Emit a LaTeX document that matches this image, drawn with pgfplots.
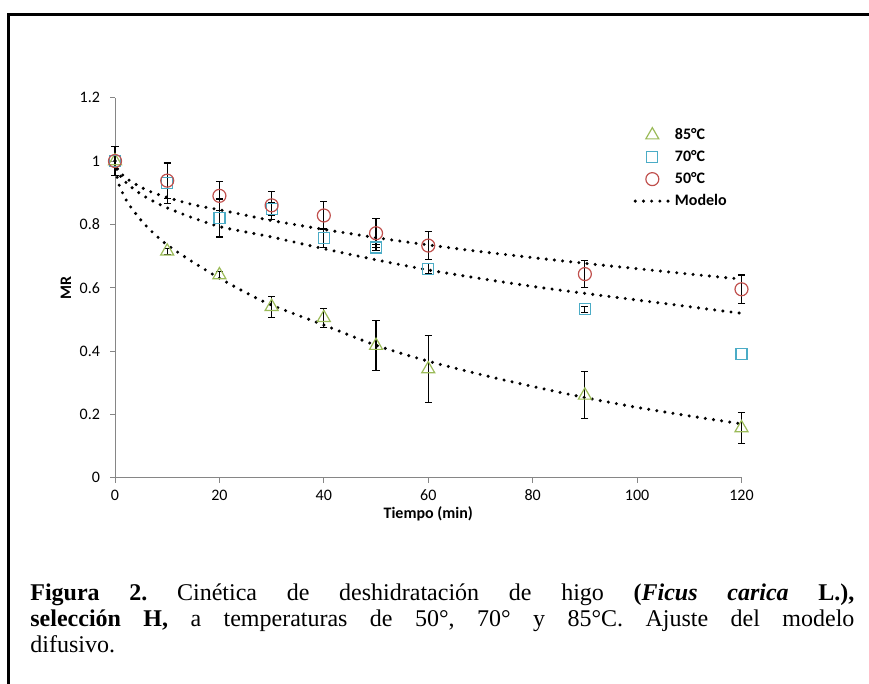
\documentclass[border=0pt]{standalone}
\usepackage{fontspec}
\setmainfont{Carlito}
\newfontfamily\capfont{Liberation Serif}
\usepackage{pgfplots}
\usepackage{pgfplotstable}
\pgfplotsset{compat=1.18}

\definecolor{c85}{HTML}{9BBB59}
\definecolor{c70}{HTML}{4BACC6}
\definecolor{c50}{HTML}{C0504D}
\definecolor{axgray}{HTML}{868686}

% measured MR with standard deviation
\pgfplotstableread{
x y e
0 1.000 0.000
10 0.715 0.010
20 0.640 0.010
30 0.540 0.033
40 0.505 0.030
50 0.417 0.078
60 0.343 0.105
90 0.260 0.074
120 0.157 0.048
}\tcinco
\pgfplotstableread{
x y e
0 1.000 0.000
10 0.930 0.065
20 0.820 0.060
30 0.848 0.020
40 0.757 0.030
50 0.727 0.010
60 0.660 0.015
90 0.532 0.010
120 0.390 0.000
}\tsiete
\pgfplotstableread{
x y e
0 1.000 0.045
10 0.938 0.055
20 0.890 0.045
30 0.860 0.045
40 0.828 0.045
50 0.772 0.046
60 0.733 0.045
90 0.643 0.043
120 0.595 0.045
}\tcincuenta

% modelo difusivo
\pgfplotstableread{
x m85 m70 m50
0 1.000 1.000 1.000
0.5 0.941 0.967 0.974
1 0.916 0.953 0.963
2 0.881 0.934 0.948
3 0.855 0.919 0.936
5 0.813 0.895 0.917
7 0.778 0.876 0.902
10 0.735 0.852 0.885
15 0.680 0.820 0.862
20 0.630 0.793 0.846
25 0.585 0.776 0.829
30 0.545 0.760 0.812
40 0.482 0.723 0.784
50 0.418 0.688 0.758
60 0.368 0.656 0.735
70 0.326 0.629 0.714
80 0.288 0.604 0.695
90 0.253 0.582 0.677
100 0.222 0.561 0.660
110 0.195 0.540 0.643
120 0.170 0.519 0.627
}\tmodelo

\pgfplotsset{
  ebar/.style={draw=none, mark=none, forget plot,
    error bars/.cd, y dir=both, y explicit,
    error bar style={draw=black, solid, line width=0.55pt},
    error mark options={draw=black, rotate=90, mark size=1.8pt, line width=0.55pt}},
  modelo/.style={black, line width=1.7pt, dash pattern=on 0pt off 4.1pt, line cap=round, smooth, forget plot},
}

\begin{document}
\begin{tikzpicture}
\path[use as bounding box] (0,0) rectangle (434.5pt,342pt);
\draw[line width=1.2pt] (4.25pt,0) -- (4.25pt,334.75pt) -- (434.5pt,334.75pt);
\begin{axis}[
  at={(57.5pt,103.15pt)}, anchor=south west,
  scale only axis, width=313.25pt, height=190pt,
  xmin=0, xmax=120, ymin=0, ymax=1.2,
  xtick={0,20,40,60,80,100,120},
  ytick={0,0.2,0.4,0.6,0.8,1,1.2},
  axis x line*=bottom, axis y line*=left,
  axis line style={axgray, line width=0.5pt, -},
  tick style={axgray, line width=0.5pt},
  major tick length=2.5pt, tick align=outside,
  tick label style={font=\fontsize{8}{9.5}\selectfont, black},
  yticklabel style={xshift=-1.5pt},
  /pgf/number format/assume math mode=true,
  /pgf/number format/fixed,
  xlabel={\textbf{Tiempo (min)}},
  ylabel={\textbf{MR}},
  label style={font=\fontsize{8}{9.5}\selectfont},
  xlabel style={at={(axis description cs:0.5,-0.094)}, anchor=center},
  ylabel style={at={(axis description cs:-0.0782,0.5)}, anchor=center},
  legend style={at={(axis description cs:0.8175,0.942)}, anchor=north west,
    draw=none, fill=none, font=\bfseries\fontsize{8}{9.5}\selectfont,
    row sep=0pt, nodes={text height=5.7pt, text depth=1.5pt, inner sep=1.9pt}},
  legend cell align=left,
  clip=false,
]
\addlegendimage{only marks, mark=triangle, mark size=3.75pt, mark options={draw=c85, line width=0.6pt}}
\addlegendentry{85°C}
\addlegendimage{only marks, mark=square, mark size=2.75pt, mark options={draw=c70, line width=0.6pt}}
\addlegendentry{70°C}
\addlegendimage{only marks, mark=o, mark size=3.25pt, mark options={draw=c50, line width=0.6pt}}
\addlegendentry{50°C}
\addlegendimage{black, line width=1.7pt, dash pattern=on 0pt off 4.1pt, line cap=round}
\addlegendentry{Modelo}

\addplot[only marks, forget plot, mark=triangle, mark size=3.75pt, mark options={draw=c85, line width=0.6pt}] table[x=x, y=y] {\tcinco};
\addplot[only marks, forget plot, mark=square, mark size=2.75pt, mark options={draw=c70, line width=0.6pt}] table[x=x, y=y] {\tsiete};
\addplot[only marks, forget plot, mark=o, mark size=3.25pt, mark options={draw=c50, line width=0.6pt}] table[x=x, y=y] {\tcincuenta};

\addplot[modelo] table[x=x, y=m85] {\tmodelo};
\addplot[modelo] table[x=x, y=m70] {\tmodelo};
\addplot[modelo] table[x=x, y=m50] {\tmodelo};

\addplot[ebar] table[x=x, y=y, y error=e, skip coords between index={0}{1}] {\tcinco};
\addplot[ebar] table[x=x, y=y, y error=e, skip coords between index={0}{1}, skip coords between index={8}{9}] {\tsiete};
\addplot[ebar] table[x=x, y=y, y error=e] {\tcincuenta};
\end{axis}
\node[anchor=base west, inner sep=0pt] at (15pt,41.5pt)
  {\capfont\fontsize{12}{13}\selectfont\frenchspacing\hbox to 412pt{\textbf{Figura 2.} Cinética de deshidratación de higo \textbf{(\textit{Ficus carica} L.),}}};
\node[anchor=base west, inner sep=0pt] at (15pt,28.5pt)
  {\capfont\fontsize{12}{13}\selectfont\frenchspacing\hbox to 412pt{\textbf{selección H,} a temperaturas de 50°, 70° y 85°C. Ajuste del modelo}};
\node[anchor=base west, inner sep=0pt] at (15pt,15.5pt)
  {\capfont\fontsize{12}{13}\selectfont difusivo.};
\end{tikzpicture}
\end{document}
